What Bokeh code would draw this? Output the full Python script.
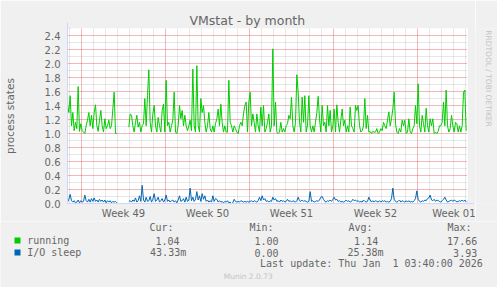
import math
from bokeh.plotting import figure
from bokeh.layouts import column, row
from bokeh.models import (ColumnDataSource, Label, FixedTicker, Arrow, NormalHead,
                          Range1d)
from bokeh.embed import file_html
from bokeh.resources import INLINE

NAN = float("nan")

# ---- data (hours relative to Mon 1 Dec 2025 00:00; one sample every 160 min) ----
SAMPLE_START_H = -28.0
SAMPLE_STEP_H = 8.0 / 3.0

running = [
    1.42, 1.30, 1.54, 1.11, 1.30, 1.04, 1.16, 1.07, 1.67, 1.03, 1.14, 1.04,
    1.02, 1.00, 1.11, 1.19, 1.30, 1.11, 1.26, 1.07, 1.30, 1.41, 1.11, 1.03,
    1.19, 1.33, 1.11, 1.02, 1.21, 1.07, 1.11, 1.19, 1.07, 1.11, 1.35, 1.59,
    1.00, 1.00, NAN, NAN, NAN, NAN, NAN, NAN, NAN, NAN,
    1.09, 1.28, 1.26, 1.11, 1.02, 1.16, 1.26, 1.09, 1.16, 1.02,
    1.11, 1.14, 1.50, 1.11, 1.54, 1.91, 1.16, 1.02, 1.28, 1.40,
    1.11, 1.02, 1.23, 1.11, 1.02, 1.33, 1.42, 1.02, 1.76, 1.11,
    # week 50
    1.16, 1.02, 1.11, 1.19, 1.59, 1.02, 1.00, 1.11, 1.40, 1.21,
    1.33, 1.11, 1.26, 1.11, 1.04, 1.11, 1.19, 1.04, 1.92, 1.11,
    1.02, 1.97, 1.11, 1.02, 1.50, 1.30, 1.40, 1.16, 1.02, 1.11,
    1.30, 1.07, 1.02, 1.11, 1.02, 1.14, 1.21, 1.35, 1.11, 1.42,
    1.16, 1.02, 1.11, 1.02, 1.02, 1.76, 1.16, 1.11, 1.02, 1.11,
    1.07, 1.02, 1.00, 1.11, 1.16, 1.11, 1.28, 1.40, 1.45, 1.02,
    1.45, 1.59, 1.11, 1.28, 1.16, 1.02, 1.28, 1.11, 1.02, 1.38,
    1.11, 1.40,
    # week 51
    1.02, 1.07, 1.16, 1.28, 1.02, 1.11, 2.21, 1.11, 1.45, 1.02,
    1.00, 1.02, 1.16, 1.02, 1.07, 1.02, 1.11, 1.14, 1.26, 1.21,
    1.52, 1.11, 1.02, 1.16, 1.84, 1.59, 1.16, 1.02, 1.52, 1.16,
    1.54, 1.02, 1.11, 1.54, 1.11, 1.02, 1.11, 1.02, 1.16, 1.30,
    1.53, 1.21, 1.02, 1.40, 1.11, 1.16, 1.02, 1.40, 1.11, 1.33,
    1.02, 1.11, 1.35, 1.02, 1.41, 1.16, 1.02, 1.19, 1.35, 1.11,
    1.19, 1.02, 1.11, 1.02, 1.38, 1.11, 1.07, 1.02, 1.40, 1.33,
    1.40, 1.11, 1.02, 1.04, 1.11, 1.50,
    # week 52 / 01
    1.07, 1.26, 1.02, 1.03, 1.00, 1.03, 1.02, 1.02, 1.07, 1.00,
    1.02, 1.07, 1.04, 1.16, 1.11, 1.07, 1.19, 1.31, 1.11, 1.21,
    1.35, 1.59, 1.14, 1.02, 1.00, 1.07, 1.02, 1.19, 1.11, 1.19,
    1.00, 1.02, 1.21, 1.02, 1.00, 1.07, 1.11, 1.40, 1.14, 1.71,
    1.11, 1.02, 1.26, 1.14, 1.02, 1.36, 1.11, 1.02, 1.21, 1.11,
    1.21, 1.00, 1.02, 1.00, 1.03, 1.11, 1.11, 1.16, 1.45, 1.11,
    1.62, 1.11, 1.02, 1.07, 1.26, 1.11, 1.02, 1.16, 1.14, 1.02,
    1.11, 1.02, 1.11, 1.59, 1.62, 1.04,
]

io_sleep = [
    0.02, 0.06, 0.13, 0.04, 0.02, 0.04, 0.01, 0.02, 0.05, 0.01,
    0.04, 0.02, 0.03, 0.12, 0.04, 0.02, 0.06, 0.02, 0.07, 0.03,
    0.08, 0.03, 0.05, 0.02, 0.06, 0.03, 0.05, 0.02, 0.05, 0.01,
    0.04, 0.02, 0.04, 0.01, 0.03, 0.02, 0.03, 0.01,
    NAN, NAN, NAN, NAN, NAN, NAN, NAN, NAN,
    0.03, 0.04, 0.02, 0.05, 0.03, 0.08, 0.02, 0.04, 0.11, 0.03,
    0.26, 0.05, 0.02, 0.09, 0.03, 0.04, 0.10, 0.02, 0.06, 0.14,
    0.03, 0.05, 0.09, 0.02, 0.04, 0.07, 0.02, 0.05, 0.12, 0.03,
    # week 50
    0.05, 0.02, 0.04, 0.05, 0.02, 0.04, 0.01, 0.05, 0.11, 0.03,
    0.04, 0.07, 0.02, 0.09, 0.03, 0.05, 0.22, 0.04, 0.09, 0.03,
    0.06, 0.17, 0.05, 0.11, 0.03, 0.14, 0.06, 0.11, 0.03, 0.05,
    0.02, 0.04, 0.02, 0.11, 0.03, 0.07, 0.06, 0.02, 0.04, 0.02,
    0.03, 0.01, 0.03, 0.02, 0.04, 0.01, 0.02, 0.00, 0.01, 0.06,
    0.03, 0.02, 0.03, 0.02, 0.04, 0.03, 0.02, 0.03, 0.02, 0.03,
    0.02, 0.03, 0.04, 0.02, 0.04, 0.03, 0.02, 0.04, 0.09, 0.04,
    0.11, 0.05,
    # week 51
    0.07, 0.03, 0.04, 0.02, 0.04, 0.03, 0.09, 0.05, 0.07, 0.03,
    0.04, 0.02, 0.05, 0.03, 0.04, 0.02, 0.03, 0.06, 0.03, 0.04,
    0.02, 0.04, 0.03, 0.02, 0.04, 0.09, 0.04, 0.03, 0.05, 0.03,
    0.04, 0.03, 0.02, 0.03, 0.17, 0.03, 0.04, 0.02, 0.03, 0.04,
    0.03, 0.05, 0.09, 0.10, 0.06, 0.03, 0.02, 0.04, 0.03, 0.05,
    0.03, 0.06, 0.09, 0.05, 0.06, 0.03, 0.04, 0.02, 0.03, 0.02,
    0.03, 0.05, 0.03, 0.04, 0.02, 0.03, 0.06, 0.04, 0.05, 0.03,
    0.04, 0.02, 0.03, 0.02, 0.05, 0.03,
    # week 52 / 01
    0.02, 0.03, 0.09, 0.05, 0.02, 0.04, 0.02, 0.04, 0.03, 0.02,
    0.04, 0.02, 0.04, 0.03, 0.04, 0.02, 0.03, 0.02, 0.03, 0.07,
    0.22, 0.06, 0.03, 0.02, 0.03, 0.05, 0.02, 0.04, 0.03, 0.02,
    0.04, 0.02, 0.04, 0.02, 0.03, 0.02, 0.04, 0.07, 0.18, 0.06,
    0.03, 0.02, 0.04, 0.03, 0.05, 0.04, 0.07, 0.08, 0.12, 0.05,
    0.04, 0.06, 0.03, 0.05, 0.04, 0.03, 0.02, 0.04, 0.06, 0.09,
    0.05, 0.02, 0.03, 0.04, 0.05, 0.03, 0.05, 0.04, 0.02, 0.03,
    0.04, 0.03, 0.05, 0.03, 0.05, 0.02,
]

week_labels = ["Week 49", "Week 50", "Week 51", "Week 52", "Week 01"]
week_starts_h = [0, 168, 336, 504, 672]

y_major = [0.2, 0.4, 0.6, 0.8, 1.0, 1.2, 1.4, 1.6, 1.8, 2.0, 2.2, 2.4]
y_minor = [0.1, 0.3, 0.5, 0.7, 0.9, 1.1, 1.3, 1.5, 1.7, 1.9, 2.1, 2.3, 2.5]
y_tick_labels = ["0.0", "0.2", "0.4", "0.6", "0.8", "1.0", "1.2",
                 "1.4", "1.6", "1.8", "2.0", "2.2", "2.4"]

legend_header = ["Cur:", "Min:", "Avg:", "Max:"]
series_names = ["running", "I/O sleep"]
series_colors = ["#00CC00", "#0066B3"]
series_stats = [["1.04", "1.00", "1.14", "17.66"],
                ["43.33m", "0.00", "25.38m", "3.93"]]
# non-breaking space keeps the double space of the original timestamp in SVG
last_update = "Last update: Thu Jan\u00a0 1 03:40:00 2026"

n = min(len(running), len(io_sleep))
hours = [SAMPLE_START_H + i * SAMPLE_STEP_H for i in range(n)]
src = ColumnDataSource(dict(t=hours, running=running[:n], io=io_sleep[:n]))

# ---- geometry (canvas pixels) ----
W, H = 497, 287
MAIN_W, MAIN_H = 475, 221
FL, FT, FR, FB = 67, 28, 467, 203

BG = "#F0F0F0"
AXIS = "#CFD6F8"
FONT = "#666666"
FAINT = "#C4C4C4"
MGRID = "#E86060"
GRID = "#A0A0A0"

p = figure(width=MAIN_W, height=MAIN_H, output_backend="svg", toolbar_location=None,
           x_range=Range1d(-28, 772), y_range=Range1d(0, 2.5),
           min_border_left=FL, min_border_right=MAIN_W - FR,
           min_border_top=FT, min_border_bottom=MAIN_H - FB)
p.background_fill_color = "#FFFFFF"
p.border_fill_color = BG
p.outline_line_color = None

# title (offset measured from the left edge of the plotting area)
p.title.text = "VMstat - by month"
p.title.align = "left"
p.title.offset = 122
p.title.text_font = "DejaVu Sans"
p.title.text_font_size = "12.5px"
p.title.text_font_style = "normal"
p.title.text_color = FONT
p.title.standoff = 1

# y axis
p.yaxis.ticker = FixedTicker(ticks=[0.0] + y_major)
p.yaxis.major_label_overrides = {v: s for v, s in zip([0.0] + y_major, y_tick_labels)}
p.yaxis.axis_line_color = AXIS
p.yaxis.major_tick_line_color = None
p.yaxis.minor_tick_line_color = None
p.yaxis.major_tick_out = 0
p.yaxis.major_tick_in = 0
p.yaxis.major_label_standoff = 7
p.yaxis.major_label_text_font = "DejaVu Sans"
p.yaxis.major_label_text_font_size = "10px"
p.yaxis.major_label_text_color = FONT
p.yaxis.axis_label = "process states"
p.yaxis.axis_label_text_font = "DejaVu Sans"
p.yaxis.axis_label_text_font_size = "10.5px"
p.yaxis.axis_label_text_font_style = "normal"
p.yaxis.axis_label_text_color = FONT
p.yaxis.axis_label_standoff = 26

# x axis: labels centred in each week
centres = [s + 84 for s in week_starts_h]
p.xaxis.ticker = FixedTicker(ticks=centres)
p.xaxis.major_label_overrides = {c: lab for c, lab in zip(centres, week_labels)}
p.xaxis.axis_line_color = AXIS
p.xaxis.major_tick_line_color = None
p.xaxis.minor_tick_line_color = None
p.xaxis.major_tick_out = 0
p.xaxis.major_tick_in = 0
p.xaxis.major_label_standoff = 4
p.xaxis.major_label_text_font = "DejaVu Sans"
p.xaxis.major_label_text_font_size = "10px"
p.xaxis.major_label_text_color = FONT

# grids: red at week starts / 0.2 steps, grey at days / 0.1 steps
days = [d * 24 for d in range(-1, 33) if (d * 24) % 168 != 0]
p.xgrid.ticker = FixedTicker(ticks=week_starts_h, minor_ticks=days)
p.ygrid.ticker = FixedTicker(ticks=y_major, minor_ticks=y_minor)
for g in (p.xgrid, p.ygrid):
    g.grid_line_color = MGRID
    g.grid_line_alpha = 0.9
    g.grid_line_dash = "1 1"
    g.grid_line_width = 1
    g.minor_grid_line_color = GRID
    g.minor_grid_line_alpha = 0.5
    g.minor_grid_line_dash = "1 1"
    g.minor_grid_line_width = 1

# series
p.line("t", "running", source=src, line_color=series_colors[0], line_width=1)
p.line("t", "io", source=src, line_color=series_colors[1], line_width=1)

# axis arrows
fw, fh = FR - FL, FB - FT
p.add_layout(Arrow(x_start=0, y_start=fh - 2, x_end=0, y_end=fh + 6,
                   start_units="screen", end_units="screen",
                   line_color=AXIS, line_width=1,
                   end=NormalHead(size=6, fill_color=AXIS, line_color=AXIS)))
p.add_layout(Arrow(x_start=fw - 2, y_start=0, x_end=fw + 6, y_end=0,
                   start_units="screen", end_units="screen",
                   line_color=AXIS, line_width=1,
                   end=NormalHead(size=6, fill_color=AXIS, line_color=AXIS)))


def text_panel(width, height, x0, y_top, y_bottom, border_top=0, border_bottom=0):
    """A plain panel whose data coordinates equal canvas pixels."""
    f = figure(width=width, height=height, output_backend="svg", toolbar_location=None,
               title=None,
               x_range=Range1d(x0, x0 + width), y_range=Range1d(y_bottom, y_top),
               min_border=0, min_border_left=0, min_border_right=0,
               min_border_top=border_top, min_border_bottom=border_bottom)
    f.axis.visible = False
    f.grid.visible = False
    f.background_fill_color = BG
    f.border_fill_color = BG
    f.outline_line_color = None
    return f


def lab(fig, text, cx, cy, size="10px", font="DejaVu Sans Mono", color=FONT,
        align="left", baseline="middle", angle=0.0):
    fig.add_layout(Label(x=cx, y=cy, text=text, text_font=font, text_font_size=size,
                         text_color=color, text_align=align, text_baseline=baseline,
                         angle=angle))


# right strip with the RRDtool credit (its plotting area matches the main one)
side = text_panel(W - MAIN_W, MAIN_H, MAIN_W, FT, FB,
                  border_top=FT, border_bottom=MAIN_H - FB)
lab(side, "RRDTOOL / TOBI OETIKER", 488, FT + 50, size="7.5px", font="DejaVu Sans",
    color=FAINT, align="center", angle=-math.pi / 2)

# legend strip
leg = text_panel(W, H - MAIN_H, 0, MAIN_H, H)
header_x = [149, 249, 348, 447]
for txt, x in zip(legend_header, header_x):
    lab(leg, txt, x, 227)

row_y = [240, 252]
stat_right = [[179, 278, 377.7, 476.7], [185.7, 278, 383, 476.7]]
for name, color, stats, y, rights in zip(series_names, series_colors, series_stats,
                                         row_y, stat_right):
    leg.quad(left=[14], right=[20], top=[y - 3], bottom=[y + 3],
             fill_color=color, line_color=None)
    lab(leg, name, 26.7, y)
    for s, r in zip(stats, rights):
        lab(leg, s, r, y, align="right")

lab(leg, last_update, 482.3, 263, align="right")
lab(leg, "Munin 2.0.73", 247.7, 276, size="7.5px", font="DejaVu Sans",
    color=FAINT, align="center")

layout = column(row(p, side, spacing=0), leg, spacing=0)
open("out.html", "w").write(file_html(layout, INLINE))
